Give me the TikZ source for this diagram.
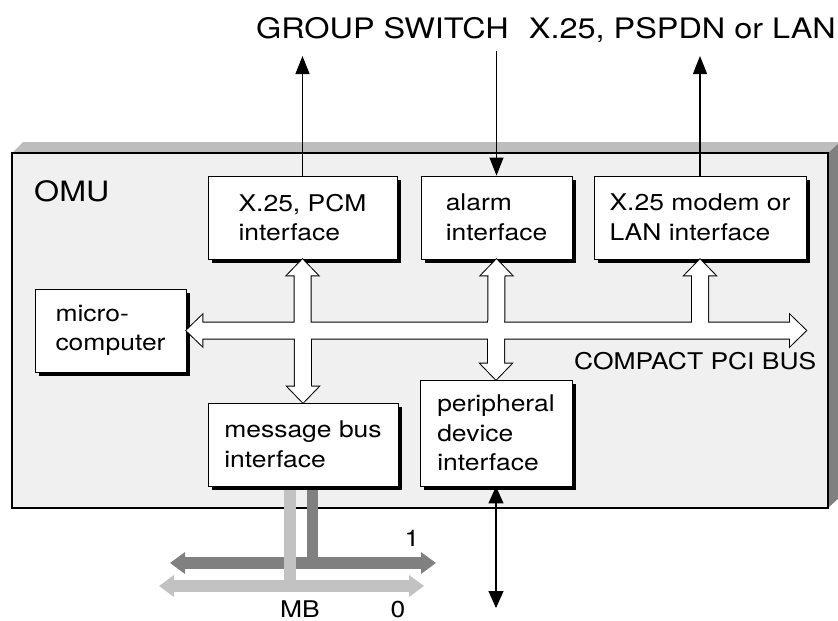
\documentclass[tikz,border=0pt]{standalone}
\usepackage{fontspec}
\setmainfont[FakeStretch=1.15]{TeX Gyre Heros}
\usetikzlibrary{arrows.meta,calc,shadows}
\definecolor{panelfront}{gray}{0.94}
\definecolor{paneltop}{gray}{0.74}
\definecolor{panelside}{gray}{0.5}
\definecolor{busdark}{gray}{0.5}
\definecolor{buslight}{gray}{0.76}
\begin{document}
\begin{tikzpicture}[x=1pt,y=-1pt,
  unitbox/.style={draw=black, line width=0.9pt, fill=white, inner sep=0pt,
    align=left, font=\fontsize{23}{29.5}\selectfont,
    drop shadow={shadow xshift=4pt, shadow yshift=-4pt, opacity=1, fill=black}},
  toplabel/.style={inner sep=0pt, font=\fontsize{28.2}{32}\selectfont},
  smalllabel/.style={inner sep=0pt, font=\fontsize{23}{28}\selectfont},
  thinarrow/.style={line width=1.1pt, -{Triangle[length=18pt,width=14pt]}},
  thinboth/.style={line width=1.1pt, {Triangle[length=17pt,width=15pt]}-{Triangle[length=17pt,width=15pt]}},
  graybus/.style={line width=12pt, {Triangle[length=15pt,width=21pt]}-{Triangle[length=15pt,width=21pt]}},
  outlinepass/.style={draw=black, line width=2pt, line join=miter},
  fillpass/.style={fill=white}
]
\useasboundingbox (0,0) rectangle (838,621);

% OMU cabinet
\fill[paneltop] (12,153) -- (23,142) -- (840,142) -- (828,153) -- cycle;
\fill[panelside] (828,153) -- (840,142) -- (840,497) -- (828,508) -- cycle;
\draw[fill=panelfront, line width=1.3pt] (12,153) rectangle (828,508);
\node[anchor=base west, inner sep=0pt, font=\fontsize{28}{32}\selectfont] (omu) at (34,201) {OMU};

% units
\node[unitbox, minimum width=189pt, minimum height=83pt] (pcm) at (302.5,217.5) {X.25, PCM\\interface};
\node[unitbox, minimum width=151pt, minimum height=83pt] (alarm) at (496.5,217.5) {alarm\\interface};
\node[unitbox, minimum width=212pt, minimum height=83pt] (modem) at (700,217.5) {X.25 modem or\\LAN interface};
\node[unitbox, minimum width=151pt, minimum height=83pt] (micro) at (110.5,330.5) {micro-\\computer};

% message bus bars and buses (behind message bus box)
\coordinate (mbd) at (312.5,486);
\coordinate (mbl) at (290,486);
\coordinate (d1L) at (170,563);
\coordinate (d1R) at (436,563);
\coordinate (d0L) at (159,586);
\coordinate (d0R) at (424,586);
\draw[graybus, busdark] (d1L) -- (d1R);
\draw[line width=11pt, busdark] (mbd) -- (mbd |- d1L);
\draw[graybus, buslight] (d0L) -- (d0R);
\draw[line width=12pt, buslight] (mbl) -- (mbl |- d0L);

\node[unitbox, minimum width=190pt, minimum height=83pt] (msg) at (303,444.5) {message bus\\interface};
\node[unitbox, minimum width=152pt, minimum height=106pt] (periph) at (496,433) {peripheral\\device\\interface};

% compact PCI bus (white outlined arrows)
\coordinate (busL) at (micro.east);
\coordinate (busR) at (806,330.5);
\coordinate (modbase) at (modem.south |- busL);
\foreach \pass in {outlinepass,fillpass}{
  \path[\pass] (busL) -- ++(16,-15.5) -- ++(0,7.5) -- ($(busR)+(-16,-8)$) -- ++(0,-7.5)
    -- (busR) -- ++(-16,15.5) -- ++(0,-7.5) -- ($(busL)+(16,8)$) -- ++(0,7.5) -- cycle;
  \path[\pass] (pcm.south) -- ++(15.5,16) -- ++(-7.5,0) -- ($(msg.north)+(8,-16)$) -- ++(7.5,0)
    -- (msg.north) -- ++(-15.5,-16) -- ++(7.5,0) -- ($(pcm.south)+(-8,16)$) -- ++(-7.5,0) -- cycle;
  \path[\pass] (alarm.south) -- ++(15.5,16) -- ++(-7.5,0) -- ($(periph.north)+(8,-16)$) -- ++(7.5,0)
    -- (periph.north) -- ++(-15.5,-16) -- ++(7.5,0) -- ($(alarm.south)+(-8,16)$) -- ++(-7.5,0) -- cycle;
  \path[\pass] (modem.south) -- ++(15.5,16) -- ++(-7.5,0) -- ($(modbase)+(8,0)$)
    -- ($(modbase)+(-8,0)$) -- ($(modem.south)+(-8,16)$) -- ++(-7.5,0) -- cycle;
}
\node[smalllabel, anchor=base west] (pci) at (574,369) {COMPACT PCI BUS};

% external connections
\coordinate (gsw) at (302.5,56);
\coordinate (alm) at (496.5,51);
\coordinate (lan) at (700,56);
\coordinate (pdev) at (496,608);
\draw[thinarrow] (pcm.north) -- (gsw);
\draw[thinarrow] (alm) -- (alarm.north);
\draw[thinarrow] (modem.north) -- (lan);
\draw[thinboth] (periph.south) -- (pdev);

\node[toplabel, anchor=base west] (gs) at (256,38) {GROUP SWITCH};
\node[toplabel, anchor=base east] (net) at (836,38) {X.25, PSPDN or LAN};

\node[smalllabel, anchor=base] (one) at (412,546) {1};
\node[smalllabel, anchor=base] (zero) at (398,617) {0};
\node[smalllabel, anchor=base] (mb) at (300,617) {MB};
\end{tikzpicture}
\end{document}
